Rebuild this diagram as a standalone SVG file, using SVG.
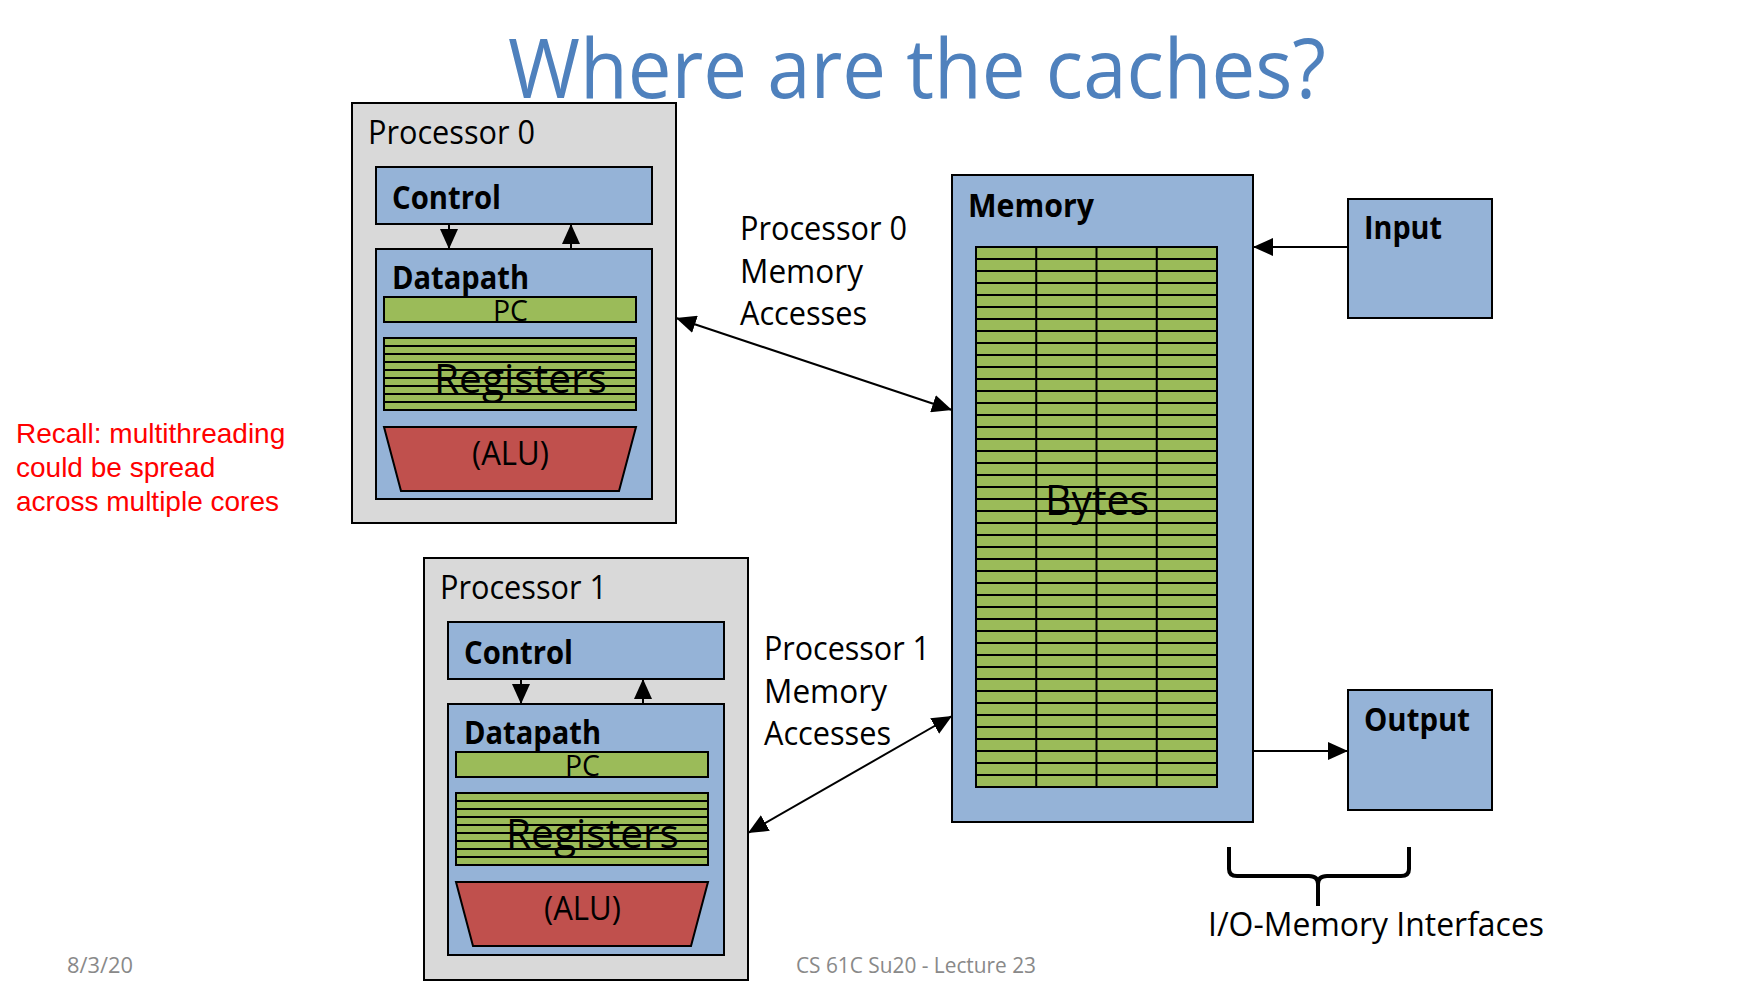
<svg xmlns="http://www.w3.org/2000/svg" width="1744" height="999" viewBox="0 0 1744 999">
  <style>
    .sans { font-family: "Open Sans", "Noto Sans", "Liberation Sans", sans-serif; fill: #000; }
    .bold { font-weight: 700; }
    .title { font-family: "Open Sans", "Noto Sans", "Liberation Sans", sans-serif; font-weight: 400; font-size: 82px; fill: #4F81BD; }
    .lbl { font-size: 32px; }
    .big { font-size: 40px; }
    .foot { font-family: "Open Sans", "Noto Sans", "Liberation Sans", sans-serif; font-size: 21px; fill: #898989; }
    .note { font-family: "Liberation Sans", Arial, sans-serif; font-size: 28px; fill: #FF0000; }
    .shell { fill: #D9D9D9; stroke: #000; stroke-width: 2; }
    .unit { fill: #95B3D7; stroke: #000; stroke-width: 2; }
    .cell { fill: #9BBB59; stroke: #000; stroke-width: 2; }
    .alu { fill: #C0504D; stroke: #000; stroke-width: 2; }
    .grid { fill: none; stroke: #000; stroke-width: 2; }
    .wire { fill: none; stroke: #000; stroke-width: 2; }
    .brace { fill: none; stroke: #000; stroke-width: 4; stroke-linejoin: round; }
  </style>
  <defs>
    <marker id="head" viewBox="0 0 20 18" refX="20" refY="9" markerWidth="20" markerHeight="18" markerUnits="userSpaceOnUse" orient="auto-start-reverse">
      <path d="M0,0 L20,9 L0,18 z" fill="#000"/>
    </marker>
  </defs>

  <rect width="1744" height="999" fill="#FFFFFF"/>

  <text class="title" x="508" y="98" textLength="818" lengthAdjust="spacingAndGlyphs">Where are the caches?</text>

  <!-- core 0 -->
  <g id="processor0">
    <rect class="shell" x="352" y="103" width="324" height="420"/>
    <text class="sans lbl" x="368" y="144" textLength="167" lengthAdjust="spacingAndGlyphs">Processor 0</text>
    <g id="control0">
      <rect class="unit" x="376" y="167" width="276" height="57"/>
      <text class="sans bold lbl" x="392" y="209" textLength="109" lengthAdjust="spacingAndGlyphs">Control</text>
    </g>
    <g id="datapath0">
      <rect class="unit" x="376" y="249" width="276" height="250"/>
      <text class="sans bold lbl" x="392" y="289" textLength="137" lengthAdjust="spacingAndGlyphs">Datapath</text>
      <rect class="cell" x="384" y="297" width="252" height="25"/>
      <text class="sans" font-size="29" x="493" y="321" textLength="35" lengthAdjust="spacingAndGlyphs">PC</text>
      <rect class="cell" x="384" y="338" width="252" height="72"/>
      <path class="grid" d="M384,346H636M384,354H636M384,362H636M384,370H636M384,378H636M384,386H636M384,394H636M384,402H636"/>
      <text class="sans big" x="434" y="393" textLength="173" lengthAdjust="spacingAndGlyphs">Registers</text>
      <polygon class="alu" points="384,427 636,427 619,491 401,491"/>
      <text class="sans lbl" x="472" y="465" textLength="77" lengthAdjust="spacingAndGlyphs">(ALU)</text>
    </g>
  </g>

  <!-- core 1: same layout, shifted -->
  <g id="processor1" transform="translate(72,455)">
    <rect class="shell" x="352" y="103" width="324" height="422"/>
    <text class="sans lbl" x="368" y="144" textLength="167" lengthAdjust="spacingAndGlyphs">Processor 1</text>
    <g id="control1">
      <rect class="unit" x="376" y="167" width="276" height="57"/>
      <text class="sans bold lbl" x="392" y="209" textLength="109" lengthAdjust="spacingAndGlyphs">Control</text>
    </g>
    <g id="datapath1">
      <rect class="unit" x="376" y="249" width="276" height="251"/>
      <text class="sans bold lbl" x="392" y="289" textLength="137" lengthAdjust="spacingAndGlyphs">Datapath</text>
      <rect class="cell" x="384" y="297" width="252" height="25"/>
      <text class="sans" font-size="29" x="493" y="321" textLength="35" lengthAdjust="spacingAndGlyphs">PC</text>
      <rect class="cell" x="384" y="338" width="252" height="72"/>
      <path class="grid" d="M384,346H636M384,354H636M384,362H636M384,370H636M384,378H636M384,386H636M384,394H636M384,402H636"/>
      <text class="sans big" x="434" y="393" textLength="173" lengthAdjust="spacingAndGlyphs">Registers</text>
      <polygon class="alu" points="384,427 636,427 619,491 401,491"/>
      <text class="sans lbl" x="472" y="465" textLength="77" lengthAdjust="spacingAndGlyphs">(ALU)</text>
    </g>
  </g>

  <!-- main memory with byte grid -->
  <g id="memory">
    <rect class="unit" x="952" y="175" width="301" height="647"/>
    <text class="sans bold lbl" x="968" y="217" textLength="126" lengthAdjust="spacingAndGlyphs">Memory</text>
    <rect class="cell" x="976" y="247" width="241" height="540"/>
    <path class="grid" d="M1036.25,247V787M1096.5,247V787M1156.75,247V787
      M976,259H1217M976,271H1217M976,283H1217M976,295H1217M976,307H1217M976,319H1217M976,331H1217M976,343H1217
      M976,355H1217M976,367H1217M976,379H1217M976,391H1217M976,403H1217M976,415H1217M976,427H1217M976,439H1217
      M976,451H1217M976,463H1217M976,475H1217M976,487H1217M976,499H1217M976,511H1217M976,523H1217M976,535H1217
      M976,547H1217M976,559H1217M976,571H1217M976,583H1217M976,595H1217M976,607H1217M976,619H1217M976,631H1217
      M976,643H1217M976,655H1217M976,667H1217M976,679H1217M976,691H1217M976,703H1217M976,715H1217M976,727H1217
      M976,739H1217M976,751H1217M976,763H1217M976,775H1217"/>
    <text class="sans" font-size="42" x="1045" y="515" textLength="104" lengthAdjust="spacingAndGlyphs">Bytes</text>
  </g>

  <g id="input">
    <rect class="unit" x="1348" y="199" width="144" height="119"/>
    <text class="sans bold lbl" x="1364" y="239" textLength="78" lengthAdjust="spacingAndGlyphs">Input</text>
  </g>

  <g id="output">
    <rect class="unit" x="1348" y="690" width="144" height="120"/>
    <text class="sans bold lbl" x="1364" y="731" textLength="106" lengthAdjust="spacingAndGlyphs">Output</text>
  </g>

  <g id="connectors">
    <path class="wire" d="M449,224V249" marker-end="url(#head)"/>
    <path class="wire" d="M571,249V224" marker-end="url(#head)"/>
    <path class="wire" d="M521,679V704" marker-end="url(#head)"/>
    <path class="wire" d="M643,704V679" marker-end="url(#head)"/>
    <path class="wire" d="M676,318L952,410" marker-start="url(#head)" marker-end="url(#head)"/>
    <path class="wire" d="M748,833L952,716" marker-start="url(#head)" marker-end="url(#head)"/>
    <path class="wire" d="M1348,247H1253" marker-end="url(#head)"/>
    <path class="wire" d="M1253,751H1348" marker-end="url(#head)"/>
  </g>

  <g id="labels">
    <text class="sans lbl" x="740" y="240" textLength="167" lengthAdjust="spacingAndGlyphs">Processor 0</text>
    <text class="sans lbl" x="740" y="283" textLength="123" lengthAdjust="spacingAndGlyphs">Memory</text>
    <text class="sans lbl" x="740" y="325" textLength="127" lengthAdjust="spacingAndGlyphs">Accesses</text>
    <text class="sans lbl" x="764" y="660" textLength="166" lengthAdjust="spacingAndGlyphs">Processor 1</text>
    <text class="sans lbl" x="764" y="703" textLength="123" lengthAdjust="spacingAndGlyphs">Memory</text>
    <text class="sans lbl" x="764" y="745" textLength="127" lengthAdjust="spacingAndGlyphs">Accesses</text>
  </g>

  <!-- brace under the I/O links -->
  <g id="io-interfaces">
    <path class="brace" d="M1229,847V869Q1229,876 1237,876H1309Q1318,876 1318,884V906M1409,847V869Q1409,876 1401,876H1327Q1318,876 1318,884"/>
    <text class="sans lbl" x="1208" y="936" textLength="336" lengthAdjust="spacingAndGlyphs">I/O-Memory Interfaces</text>
  </g>

  <g id="note">
    <text class="note" x="16" y="443">Recall: multithreading</text>
    <text class="note" x="16" y="477">could be spread</text>
    <text class="note" x="16" y="511">across multiple cores</text>
  </g>

  <g id="footer">
    <text class="foot" x="67" y="973" textLength="66" lengthAdjust="spacingAndGlyphs">8/3/20</text>
    <text class="foot" x="796" y="973" textLength="240" lengthAdjust="spacingAndGlyphs">CS 61C Su20 - Lecture 23</text>
  </g>
</svg>
